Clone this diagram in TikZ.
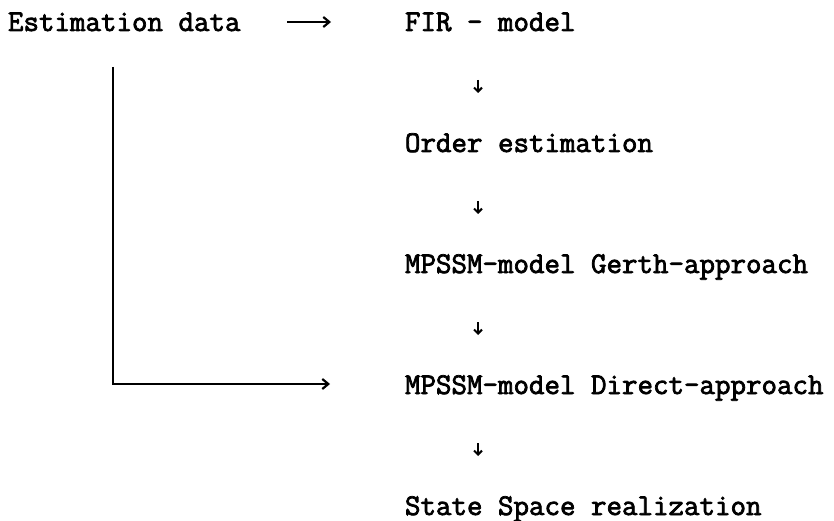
\documentclass[tikz,border=0pt]{standalone}
\usepackage{fontspec}
\newfontfamily\tyfont[FakeBold=2.5]{Latin Modern Mono}
\usetikzlibrary{arrows.meta}
\tikzset{
  txt/.style={anchor=base west, inner sep=0pt, outer sep=0pt,
    font=\fontsize{30.1}{32}\selectfont\tyfont},
  conn/.style={line width=2.4pt},
  harr/.style={conn, -{Straight Barb[length=6pt,width=10pt,line width=2.2pt]}},
  varr/.style={line width=2.2pt, -{Straight Barb[length=4pt,width=8pt,line width=2pt]}}
}
\begin{document}
\begin{tikzpicture}[x=1pt,y=-1pt]
\useasboundingbox (0,0) rectangle (834,521);
\node[txt] (est) at (8,31) {Estimation data};
\node[txt] (fir) at (405,31) {FIR - model};
\node[txt] (ord) at (405,152) {Order estimation};
\node[txt] (ger) at (405,273) {MPSSM-model Gerth-approach};
\node[txt] (dir) at (405,394) {MPSSM-model Direct-approach};
\node[txt] (ssr) at (405,515) {State Space realization};
% top arrow
\coordinate (t1) at (287,22);
\coordinate (t2) at (331,22);
\draw[harr] (t1) -- (t2);
% down arrows
\foreach \y [count=\i] in {80,201,322,443}{
  \coordinate (d\i s) at (478,\y);
  \coordinate (d\i e) at (478,\y+13);
}
\draw[varr] (d1s) -- (d1e);
\draw[varr] (d2s) -- (d2e);
\draw[varr] (d3s) -- (d3e);
\draw[varr] (d4s) -- (d4e);
% bypass
\coordinate (b1) at (113,67);
\coordinate (b2) at (113,384);
\coordinate (b3) at (330,384);
\draw[harr] (b1) -- (b2) -- (b3);
\end{tikzpicture}
\end{document}
